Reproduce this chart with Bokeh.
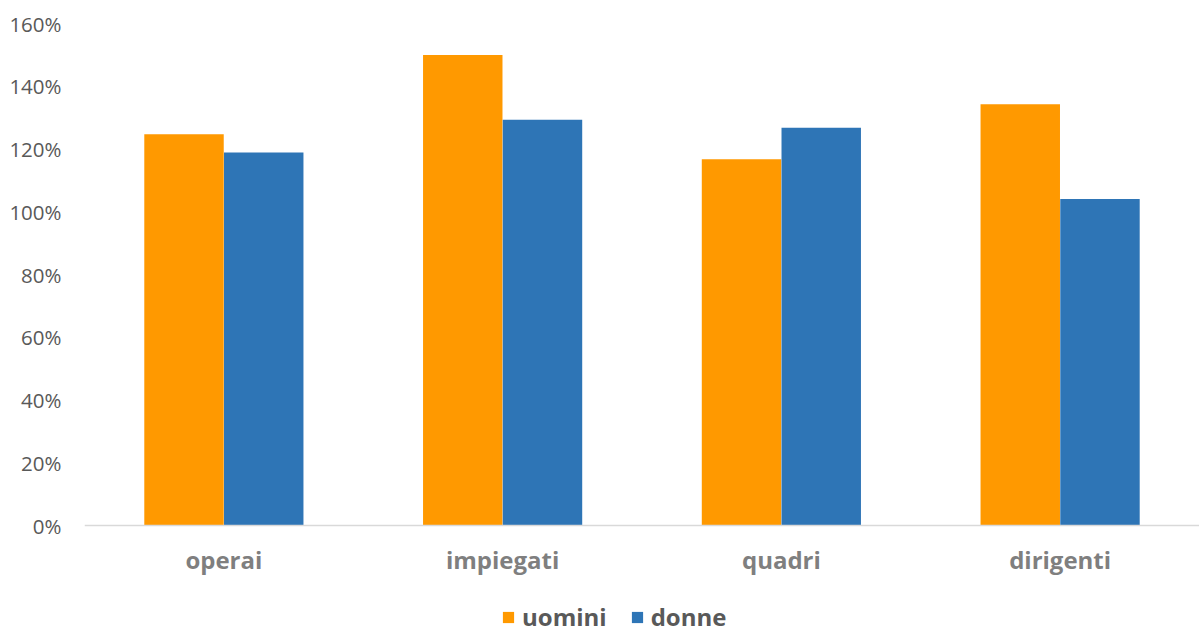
import numpy as np
from bokeh.plotting import figure
from bokeh.models import Range1d, FixedTicker, NumeralTickFormatter, Legend, LegendItem
from bokeh.embed import file_html
from bokeh.resources import INLINE

categories = ["operai", "impiegati", "quadri", "dirigenti"]
series_names = ["uomini", "donne"]
uomini = [1.247, 1.500, 1.167, 1.343]
donne = [1.189, 1.293, 1.268, 1.041]
y_ticks = [0.0, 0.2, 0.4, 0.6, 0.8, 1.0, 1.2, 1.4, 1.6]
colors = ["#FF9900", "#2E75B6"]

idx = np.arange(len(categories))
offset = 0.1430
bar_w = 0.285

W, H = 1199, 626
top_b, left_b = 23, 84
zero_px = 525
px_per_unit = (zero_px - top_b) / 1.6
y_start = -(H - zero_px) / px_per_unit

p = figure(width=W, height=H, output_backend="svg", toolbar_location=None,
           x_range=Range1d(-0.5, 3.5), y_range=Range1d(y_start, 1.6),
           min_border_left=left_b, min_border_right=0, min_border_top=top_b, min_border_bottom=0)
p.outline_line_color = None
p.background_fill_color = "white"
p.border_fill_color = "white"
p.xgrid.visible = False
p.ygrid.visible = False

r1 = p.vbar(x=idx - offset, top=uomini, width=bar_w, bottom=0, fill_color=colors[0], line_color=None)
r2 = p.vbar(x=idx + offset, top=donne, width=bar_w, bottom=0, fill_color=colors[1], line_color=None)

# y axis
p.yaxis.ticker = FixedTicker(ticks=y_ticks)
p.yaxis.formatter = NumeralTickFormatter(format="0%")
p.yaxis.axis_line_color = None
p.yaxis.major_tick_line_color = None
p.yaxis.minor_tick_line_color = None
p.yaxis.major_tick_out = 0
p.yaxis.major_tick_in = 0
p.yaxis.minor_tick_out = 0
p.yaxis.major_label_standoff = 23
p.yaxis.major_label_text_font = "Open Sans"
p.yaxis.major_label_text_font_size = "20.5px"
p.yaxis.major_label_text_color = "#595959"

# x axis (placed at y = 0 inside the frame)
p.xaxis.fixed_location = 0
p.xaxis.ticker = FixedTicker(ticks=list(idx))
p.xaxis.major_label_overrides = {int(i): c for i, c in zip(idx, categories)}
p.xaxis.axis_line_color = "#D9D9D9"
p.xaxis.axis_line_width = 1.5
p.xaxis.major_tick_line_color = None
p.xaxis.minor_tick_line_color = None
p.xaxis.major_tick_out = 0
p.xaxis.major_tick_in = 0
p.xaxis.major_label_standoff = 17
p.xaxis.major_label_text_font = "Open Sans"
p.xaxis.major_label_text_font_style = "bold"
p.xaxis.major_label_text_font_size = "24px"
p.xaxis.major_label_text_color = "#7F7F7F"

legend = Legend(items=[LegendItem(label=series_names[0], renderers=[r1]),
                       LegendItem(label=series_names[1], renderers=[r2])],
                orientation="horizontal", location=(417, -7),
                glyph_width=14, glyph_height=14, label_height=20,
                label_standoff=7, spacing=23, padding=0, margin=0,
                border_line_color=None, background_fill_alpha=0,
                label_text_font="Open Sans", label_text_font_style="bold",
                label_text_font_size="24px", label_text_color="#595959")
p.add_layout(legend, "center")

open("out.html", "w").write(file_html(p, INLINE))
